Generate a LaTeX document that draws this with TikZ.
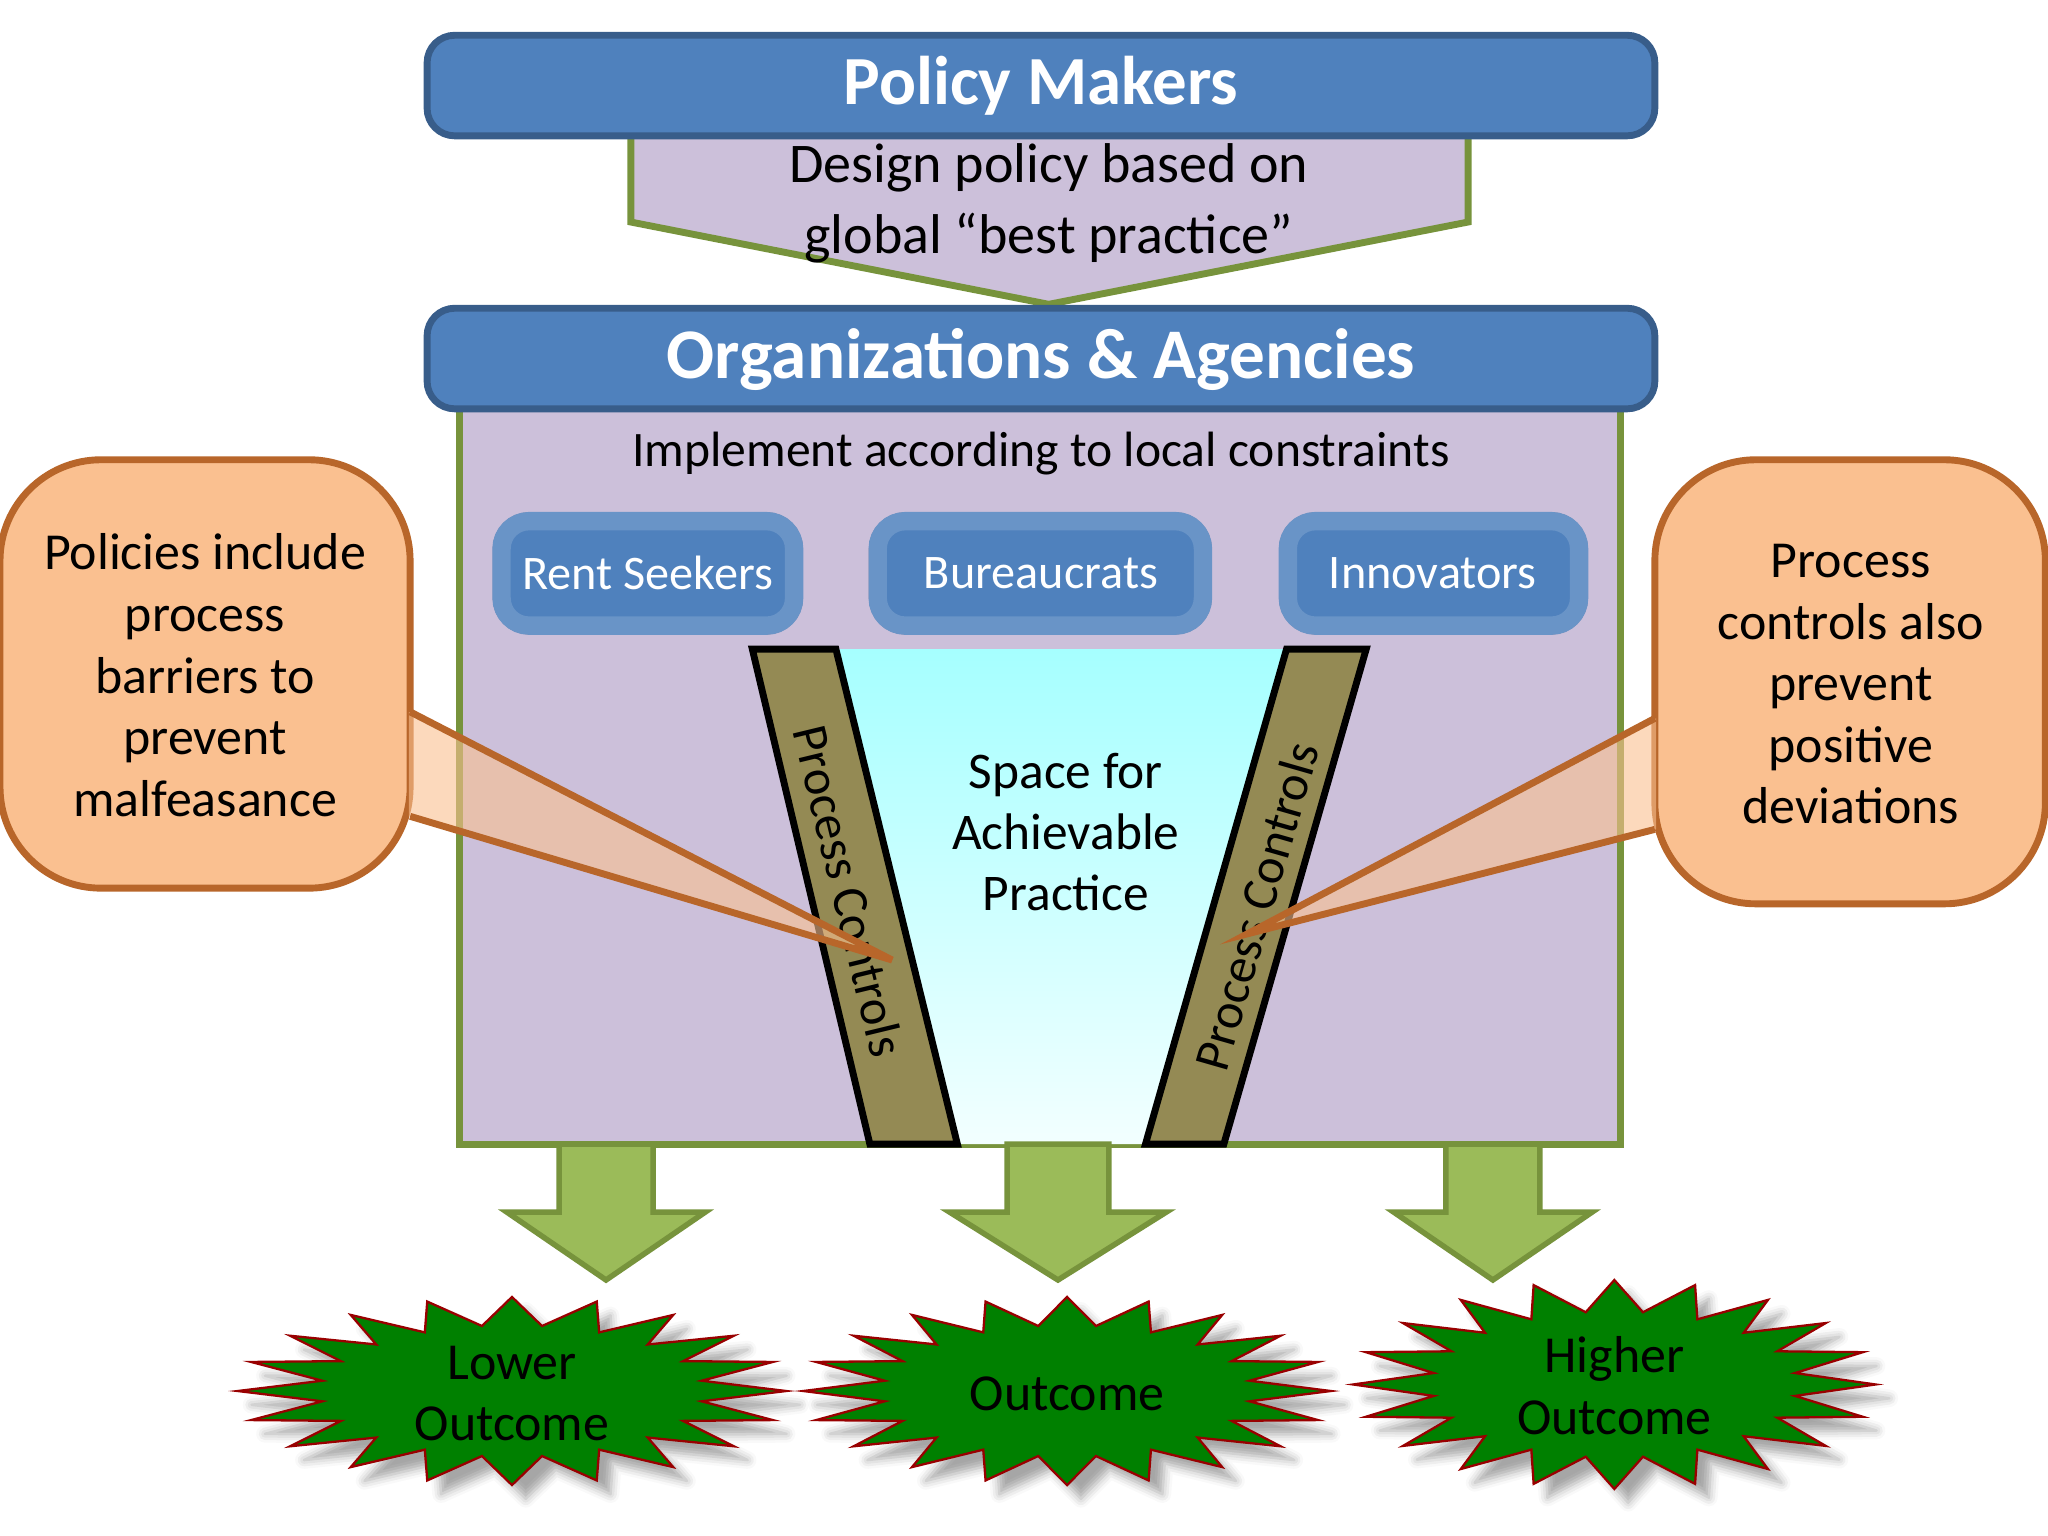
\documentclass[tikz,border=0pt]{standalone}
\usepackage{fontspec}
\setmainfont{Carlito}
\usetikzlibrary{shadows.blur}
\definecolor{bl}{HTML}{4F81BD}\definecolor{bld}{HTML}{385D8A}
\definecolor{pu}{HTML}{CCC0DA}\definecolor{ol}{HTML}{77933C}
\definecolor{or}{HTML}{FAC090}\definecolor{ord}{HTML}{B8662A}
\definecolor{gr}{HTML}{9BBB59}\definecolor{kh}{HTML}{948A54}
\definecolor{dg}{HTML}{008000}
\tikzset{
 bar/.style={fill=bl,draw=bld,line width=1.5pt,rounded corners=6pt},
 bartext/.style={text=white,font=\fontsize{15}{18}\selectfont\bfseries},
 soft/.style={fill=bl,draw=bl!85!white,line width=4pt,rounded corners=6pt,blur shadow={shadow blur steps=8,shadow xshift=0pt,shadow yshift=0pt,shadow opacity=35}},
 softtext/.style={text=white,font=\fontsize{10.5}{13}\selectfont},
 call/.style={fill=or,draw=ord,line width=1.5pt,rounded corners=22pt},
 calltext/.style={align=center,font=\fontsize{11.3}{13.4}\selectfont},
 down/.style={fill=gr,draw=ol,line width=1.2pt},
 side/.style={fill=kh,draw=black,line width=1.5pt},
 burst/.style={fill=dg,draw=red!60!black,line width=0.5pt,blur shadow={shadow xshift=3pt,shadow yshift=-3pt,shadow opacity=35}},
 bursttext/.style={align=center,font=\fontsize{11.3}{13.4}\selectfont},
}
\begin{document}
\begin{tikzpicture}[x=0.01cm,y=-0.01cm]
\useasboundingbox (0,0) rectangle (1568,1176);
\draw[fill=pu,draw=ol,line width=1.5pt] (483,100) -- (1124,100) -- (1124,170) -- (803,233) -- (483,170) -- cycle;
\node[font=\fontsize{12.2}{15.5}\selectfont,align=center] (design) at (803,156) {Design policy based on\\global “best practice”};
\draw[fill=pu,draw=ol,line width=1.5pt] (352,305) rectangle (1241,876);
\draw[bar] (327,27) rectangle (1267,104);
\node[bartext] (pm) at (797,66) {Policy Makers};
\draw[bar] (327,236) rectangle (1267,313);
\node[bartext,font=\fontsize{15.5}{19}\selectfont\bfseries] (oa) at (797,275) {Organizations \& Agencies};
\node[font=\fontsize{10.8}{13}\selectfont] (impl) at (797,347) {Implement according to local constraints};
\draw[soft] (384,399) rectangle (608,479);
\node[softtext] (rs) at (496,439) {Rent Seekers};
\draw[soft] (672,399) rectangle (921,479);
\node[softtext] (bu) at (797,439) {Bureaucrats};
\draw[soft] (986,399) rectangle (1209,479);
\node[softtext] (in) at (1097,439) {Innovators};
\shade[top color=cyan!35!white,bottom color=cyan!5!white] (640,497) -- (985,497) -- (877,876) -- (733,876) -- cycle;
\draw[side] (576,497) -- (640,497) -- (733,876) -- (666,876) -- cycle;
\draw[side] (985,497) -- (1046,497) -- (937,876) -- (877,876) -- cycle;
\node[font=\fontsize{11}{13}\selectfont,rotate=-76.4] (pcl) at (650,682) {Process Controls};
\node[font=\fontsize{11}{13}\selectfont,rotate=74] (pcr) at (962,694) {Process Controls};
\node[font=\fontsize{11.2}{13.2}\selectfont,align=center] (space) at (816,637) {Space for\\Achievable\\Practice};
\draw[call] (0,352) rectangle (314,680);
\fill[or,opacity=0.6] (313,545) -- (683,735) -- (313,625) -- cycle;
\draw[ord,line width=1.5pt] (314,545) -- (683,735) -- (314,625);
\node[calltext] (cl) at (157,517) {Policies include\\process\\barriers to\\prevent\\malfeasance};
\draw[call] (1267,352) rectangle (1566,692);
\fill[or,opacity=0.6] (1268,550) -- (955,715) -- (1268,635) -- cycle;
\draw[ord,line width=1.5pt] (1267,550) -- (955,715) -- (1267,635);
\node[calltext] (cr) at (1417,524) {Process\\controls also\\prevent\\positive\\deviations};
\draw[down] (428,876) -- (500,876) -- (500,928) -- (540,928) -- (464,980) -- (388,928) -- (428,928) -- cycle;
\draw[down] (771,876) -- (849,876) -- (849,928) -- (893,928) -- (810,980) -- (727,928) -- (771,928) -- cycle;
\draw[down] (1107,876) -- (1179,876) -- (1179,928) -- (1219,928) -- (1143,980) -- (1067,928) -- (1107,928) -- cycle;
\foreach \cx/\cy/\rx/\ry in {392/1065/210/72, 817/1065/202/72, 1236/1060/200/80}{
 \draw[burst] ({\cx+\rx},\cy) \foreach \i in {1,...,39}{ -- ({\cx+\rx*(1-0.3*mod(\i,2))*cos(\i*9)},{\cy+\ry*(1-0.3*mod(\i,2))*sin(\i*9)}) } -- cycle;
}
\node[bursttext] (lo) at (392,1067) {Lower\\Outcome};
\node[bursttext] (mo) at (817,1067) {Outcome};
\node[bursttext] (ho) at (1236,1061) {Higher\\Outcome};
\end{tikzpicture}
\end{document}
